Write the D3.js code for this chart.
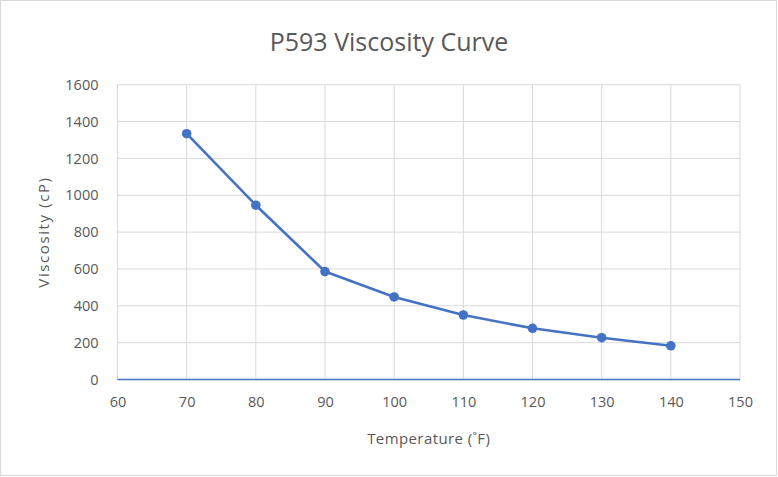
<!DOCTYPE html>
<html><head><meta charset="utf-8">
<script src="https://cdn.jsdelivr.net/npm/d3@7"></script>
<style>body{margin:0;background:#fff}svg{display:block}text{font-family:"Open Sans","Noto Sans",sans-serif;fill:#595959}</style>
</head><body><svg id="c" width="778" height="477"></svg>
<script>
const temperatures = [70, 80, 90, 100, 110, 120, 130, 140];
const viscosity = [1334, 946, 586, 448, 350, 278, 227, 183];
const xTicks = [60, 70, 80, 90, 100, 110, 120, 130, 140, 150];
const yTicks = [0, 200, 400, 600, 800, 1000, 1200, 1400, 1600];
const title = "P593 Viscosity Curve";
const xLabel = "Temperature (˚F)";
const yLabel = "Viscosity (cP)";

const svg = d3.select("#c");
svg.append("rect").attr("x",0.5).attr("y",0.5).attr("width",776).attr("height",475)
  .attr("fill","#fff").attr("stroke","#d9d9d9");
const L=117.5, R=740, T=84.7, B=379.5;
const x = d3.scaleLinear().domain([60,150]).range([L,R]);
const y = d3.scaleLinear().domain([0,1600]).range([B,T]);

const g = svg.append("g");
g.selectAll(".hg").data(yTicks).enter().append("line")
  .attr("x1",L).attr("x2",R).attr("y1",d=>y(d)).attr("y2",d=>y(d))
  .attr("stroke","#d9d9d9").attr("stroke-width",1);
g.selectAll(".vg").data(xTicks).enter().append("line")
  .attr("x1",d=>x(d)).attr("x2",d=>x(d)).attr("y1",T).attr("y2",B)
  .attr("stroke","#d9d9d9").attr("stroke-width",1);
g.append("line").attr("x1",L).attr("x2",R).attr("y1",B).attr("y2",B)
  .attr("stroke","#4472C4").attr("stroke-width",1.3);

const xa = svg.append("g").attr("transform",`translate(0,${B})`)
  .call(d3.axisBottom(x).tickValues(xTicks).tickSize(0).tickPadding(17).tickFormat(d3.format("d")));
xa.select(".domain").remove();
xa.selectAll("text").style("font-size","14.5px").attr("fill","#595959");
const ya = svg.append("g").attr("transform",`translate(${L},0)`)
  .call(d3.axisLeft(y).tickValues(yTicks).tickSize(0).tickPadding(19).tickFormat(d3.format("d")));
ya.select(".domain").remove();
ya.selectAll("text").style("font-size","14.5px").attr("fill","#595959");

const pts = temperatures.map((t,i)=>[t,viscosity[i]]);
svg.append("path").datum(pts)
  .attr("d", d3.line().x(d=>x(d[0])).y(d=>y(d[1])))
  .attr("fill","none").attr("stroke","#4472C4").attr("stroke-width",2.6).attr("stroke-linejoin","round");
svg.selectAll(".pt").data(pts).enter().append("circle")
  .attr("cx",d=>x(d[0])).attr("cy",d=>y(d[1])).attr("r",4.8).attr("fill","#4472C4");

svg.append("text").attr("x",389).attr("y",51).attr("text-anchor","middle")
  .style("font-size","25px").text(title);
svg.append("text").attr("x",(L+R)/2).attr("y",444).attr("text-anchor","middle")
  .style("font-size","15px").style("letter-spacing","0.4px").text(xLabel);
svg.append("text").attr("transform",`translate(49,232) rotate(-90)`).attr("text-anchor","middle")
  .style("font-size","15px").style("letter-spacing","1.6px").text(yLabel);
</script></body></html>
